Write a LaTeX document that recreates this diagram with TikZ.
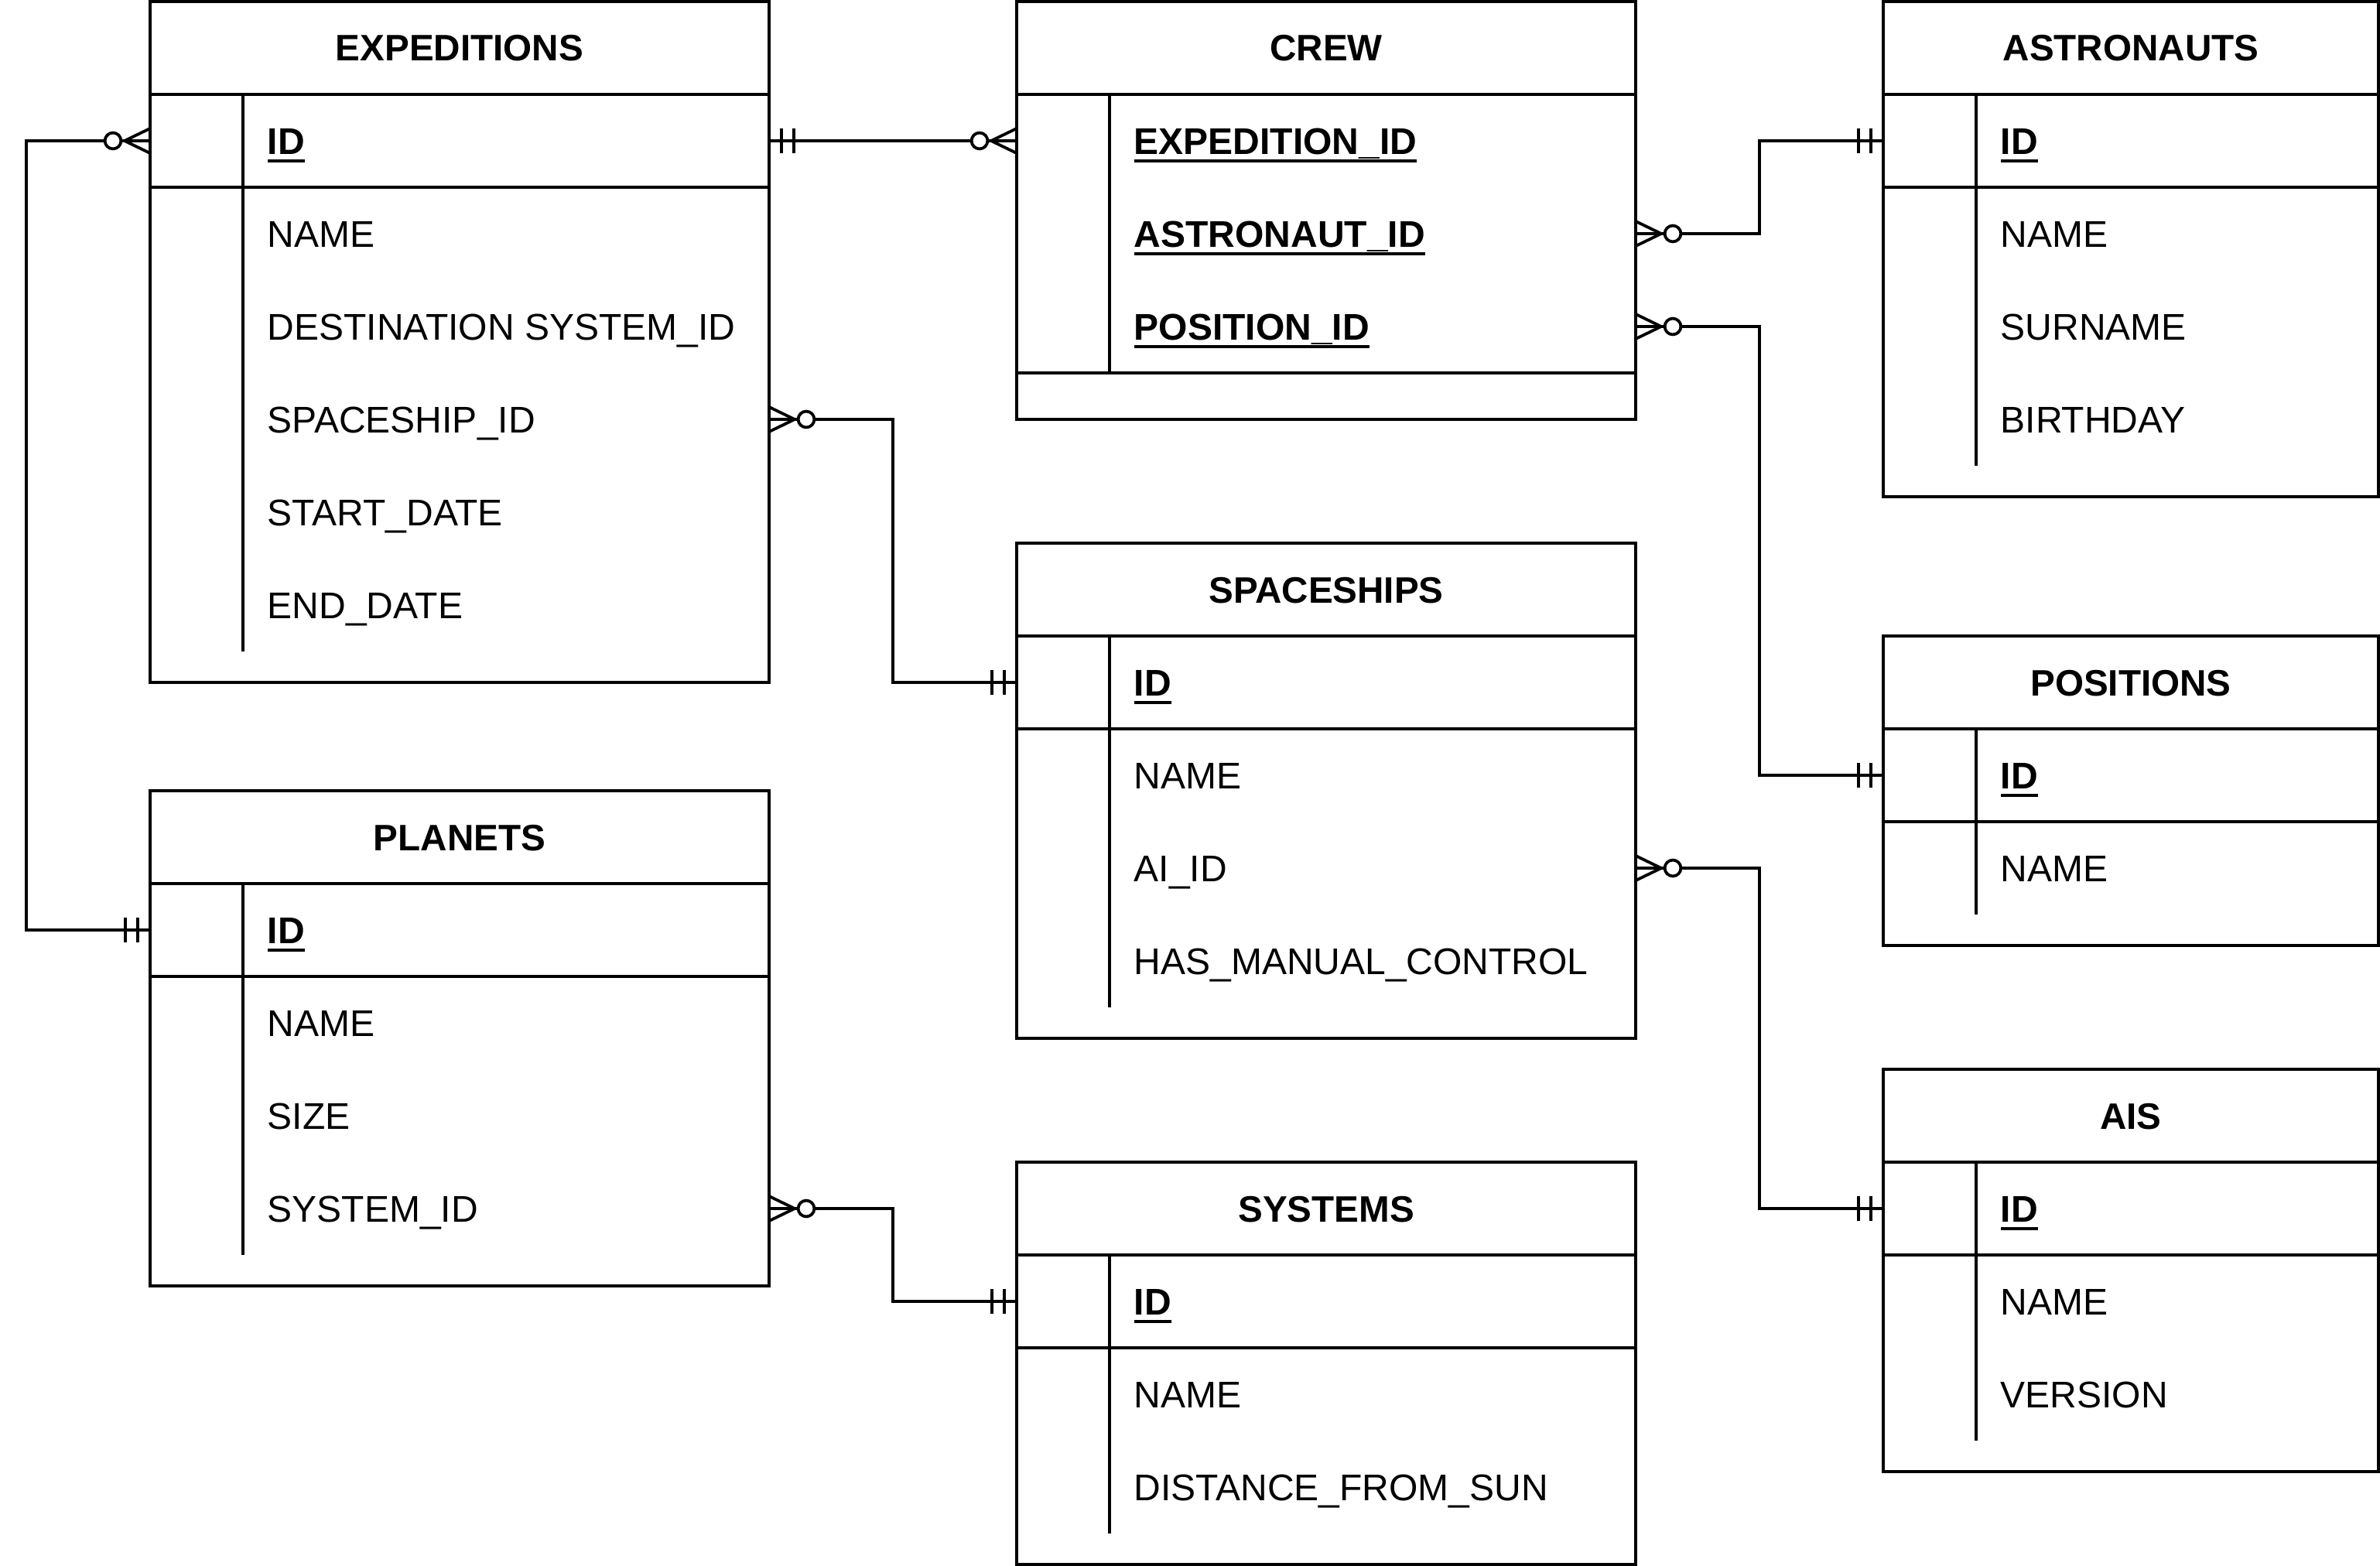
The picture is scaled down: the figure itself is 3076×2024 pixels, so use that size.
\documentclass[tikz,border=0pt]{standalone}
\usepackage{fontspec}
\setmainfont{Liberation Sans}
\usetikzlibrary{positioning}
\newlength\erpx
\setlength\erpx{0.25pt}
\newsavebox\pkbox
\newcommand\pkey[1]{\sbox\pkbox{\bfseries #1}\rlap{\rule[-2.67pt]{\wd\pkbox}{1pt}}\usebox\pkbox}
\tikzset{%
  entity/.style={draw,line width=.85pt,anchor=north west,inner sep=0pt,outer sep=0pt},
  head/.style={entity,minimum height=120\erpx,font=\fontsize{11.9}{14}\selectfont\bfseries,
    text height=8.5pt,text depth=0pt},
  keybox/.style={entity},
  divider/.style={line width=.85pt},
  field/.style={anchor=west,inner sep=0pt,font=\fontsize{12}{14}\selectfont,
    text height=8.6pt,text depth=0pt},
  rel/.style={line width=.95pt},
  zeromany/.pic={\draw[rel] (0,-16) -- (33,0) -- (0,16);
    \draw[rel,fill=white] (48,0) circle[radius=2.6pt];},
  oneone/.pic={\draw[rel] (16,-16) -- (16,16) (32,-16) -- (32,16);}
}

\begin{document}
\begin{tikzpicture}[x=\erpx,y=-\erpx]
  \useasboundingbox (0,0) rectangle (3076,2024);

  \node[entity,minimum width=800\erpx,minimum height=880\erpx] (exp) at (194,2) {};
  \node[head,minimum width=800\erpx] (expHead) at (exp.north west) {EXPEDITIONS};
  \node[keybox,minimum width=800\erpx,minimum height=120\erpx] (expKey) at (expHead.south west) {};
  \draw[divider] ([xshift=120\erpx]expHead.south west) -- ++(0,720);
  \node[field] (expId) at (345,182) {\pkey{ID}};
  \foreach \y/\t/\n in {302/NAME/Name,422/DESTINATION SYSTEM\_ID/Dest,542/SPACESHIP\_ID/Ship,
      662/START\_DATE/Start,782/END\_DATE/End}
    \node[field] (exp\n) at (345,\y) {\t};

  \node[entity,minimum width=800\erpx,minimum height=540\erpx] (crew) at (1314,2) {};
  \node[head,minimum width=800\erpx] (crewHead) at (crew.north west) {CREW};
  \node[keybox,minimum width=800\erpx,minimum height=360\erpx] (crewKey) at (crewHead.south west) {};
  \draw[divider] ([xshift=120\erpx]crewHead.south west) -- ++(0,360);
  \node[field] (crewExp) at (1465,182) {\pkey{EXPEDITION\_ID}};
  \node[field] (crewAst) at (1465,302) {\pkey{ASTRONAUT\_ID}};
  \node[field] (crewPos) at (1465,422) {\pkey{POSITION\_ID}};

  \node[entity,minimum width=640\erpx,minimum height=640\erpx] (ast) at (2434,2) {};
  \node[head,minimum width=640\erpx] (astHead) at (ast.north west) {ASTRONAUTS};
  \node[keybox,minimum width=640\erpx,minimum height=120\erpx] (astKey) at (astHead.south west) {};
  \draw[divider] ([xshift=120\erpx]astHead.south west) -- ++(0,480);
  \node[field] (astId) at (2585,182) {\pkey{ID}};
  \foreach \y/\t/\n in {302/NAME/Name,422/SURNAME/Surname,542/BIRTHDAY/Birthday}
    \node[field] (ast\n) at (2585,\y) {\t};

  \node[entity,minimum width=800\erpx,minimum height=640\erpx] (ship) at (1314,702) {};
  \node[head,minimum width=800\erpx] (shipHead) at (ship.north west) {SPACESHIPS};
  \node[keybox,minimum width=800\erpx,minimum height=120\erpx] (shipKey) at (shipHead.south west) {};
  \draw[divider] ([xshift=120\erpx]shipHead.south west) -- ++(0,480);
  \node[field] (shipId) at (1465,882) {\pkey{ID}};
  \foreach \y/\t/\n in {1002/NAME/Name,1122/AI\_ID/Ai,1242/HAS\_MANUAL\_CONTROL/Manual}
    \node[field] (ship\n) at (1465,\y) {\t};

  \node[entity,minimum width=640\erpx,minimum height=400\erpx] (pos) at (2434,822) {};
  \node[head,minimum width=640\erpx] (posHead) at (pos.north west) {POSITIONS};
  \node[keybox,minimum width=640\erpx,minimum height=120\erpx] (posKey) at (posHead.south west) {};
  \draw[divider] ([xshift=120\erpx]posHead.south west) -- ++(0,240);
  \node[field] (posId) at (2585,1002) {\pkey{ID}};
  \node[field] (posName) at (2585,1122) {NAME};

  \node[entity,minimum width=800\erpx,minimum height=640\erpx] (pl) at (194,1022) {};
  \node[head,minimum width=800\erpx] (plHead) at (pl.north west) {PLANETS};
  \node[keybox,minimum width=800\erpx,minimum height=120\erpx] (plKey) at (plHead.south west) {};
  \draw[divider] ([xshift=120\erpx]plHead.south west) -- ++(0,480);
  \node[field] (plId) at (345,1202) {\pkey{ID}};
  \foreach \y/\t/\n in {1322/NAME/Name,1442/SIZE/Size,1562/SYSTEM\_ID/Sys}
    \node[field] (pl\n) at (345,\y) {\t};

  \node[entity,minimum width=800\erpx,minimum height=520\erpx] (sys) at (1314,1502) {};
  \node[head,minimum width=800\erpx] (sysHead) at (sys.north west) {SYSTEMS};
  \node[keybox,minimum width=800\erpx,minimum height=120\erpx] (sysKey) at (sysHead.south west) {};
  \draw[divider] ([xshift=120\erpx]sysHead.south west) -- ++(0,360);
  \node[field] (sysId) at (1465,1682) {\pkey{ID}};
  \foreach \y/\t/\n in {1802/NAME/Name,1922/DISTANCE\_FROM\_SUN/Dist}
    \node[field] (sys\n) at (1465,\y) {\t};

  \node[entity,minimum width=640\erpx,minimum height=520\erpx] (ais) at (2434,1382) {};
  \node[head,minimum width=640\erpx] (aisHead) at (ais.north west) {AIS};
  \node[keybox,minimum width=640\erpx,minimum height=120\erpx] (aisKey) at (aisHead.south west) {};
  \draw[divider] ([xshift=120\erpx]aisHead.south west) -- ++(0,360);
  \node[field] (aisId) at (2585,1562) {\pkey{ID}};
  \foreach \y/\t/\n in {1682/NAME/Name,1802/VERSION/Version}
    \node[field] (ais\n) at (2585,\y) {\t};

  \draw[rel] (exp.west |- expId) -- ++(-160,0) |- (pl.west |- plId);
  \draw[rel] (exp.east |- expId) -- (crew.west |- crewExp);
  \draw[rel] (crew.east |- crewAst) -- ++(160,0) |- (ast.west |- astId);
  \draw[rel] (crew.east |- crewPos) -- ++(160,0) |- (pos.west |- posId);
  \draw[rel] (exp.east |- expShip) -- ++(160,0) |- (ship.west |- shipId);
  \draw[rel] (ship.east |- shipAi) -- ++(160,0) |- (ais.west |- aisId);
  \draw[rel] (pl.east |- plSys) -- ++(160,0) |- (sys.west |- sysId);

  \pic[rotate=180] at (exp.west |- expId) {zeromany};
  \pic[rotate=180] at (pl.west |- plId) {oneone};
  \pic at (exp.east |- expId) {oneone};
  \pic[rotate=180] at (crew.west |- crewExp) {zeromany};
  \pic at (crew.east |- crewAst) {zeromany};
  \pic[rotate=180] at (ast.west |- astId) {oneone};
  \pic at (crew.east |- crewPos) {zeromany};
  \pic[rotate=180] at (pos.west |- posId) {oneone};
  \pic at (exp.east |- expShip) {zeromany};
  \pic[rotate=180] at (ship.west |- shipId) {oneone};
  \pic at (ship.east |- shipAi) {zeromany};
  \pic[rotate=180] at (ais.west |- aisId) {oneone};
  \pic at (pl.east |- plSys) {zeromany};
  \pic[rotate=180] at (sys.west |- sysId) {oneone};
\end{tikzpicture}
\end{document}
